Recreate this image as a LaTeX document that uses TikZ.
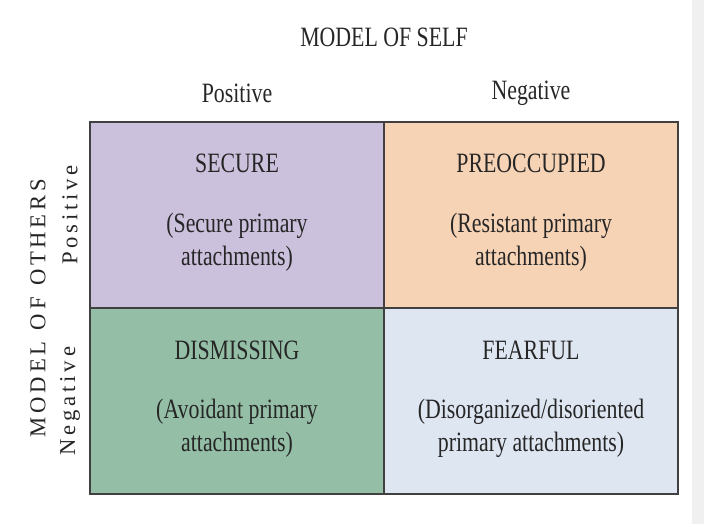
\documentclass[tikz,border=0pt]{standalone}
\usepackage{fontspec}
\setmainfont{Liberation Serif}[FakeStretch=0.78]
\newfontfamily\sidefont{Liberation Serif}
\begin{document}
\begin{tikzpicture}[x=0.75pt,y=-0.75pt,
  cell/.style={draw=black!75,line width=1.6pt},
  lab/.style={align=center,font=\fontsize{21}{25}\selectfont,text=black!85},
  side/.style={rotate=90,font=\sidefont\fontsize{17}{20}\selectfont,text=black!85}]
\useasboundingbox (0,0) rectangle (704,524);
\fill[black!6] (692,0) rectangle (704,524);
\fill[cell,fill={rgb,255:red,204;green,193;blue,221}] (90,122) rectangle (384,308);
\fill[cell,fill={rgb,255:red,247;green,211;blue,182}] (384,122) rectangle (678,308);
\fill[cell,fill={rgb,255:red,148;green,191;blue,166}] (90,308) rectangle (384,494);
\fill[cell,fill={rgb,255:red,222;green,230;blue,241}] (384,308) rectangle (678,494);
\draw[cell] (90,122) rectangle (678,494) (384,122)--(384,494) (90,308)--(678,308);
\node[lab] (title) at (384,37) {MODEL OF SELF};
\node[lab] (pos) at (237,93) {Positive};
\node[lab] (neg) at (531,93) {Negative};
\node[lab] (s1) at (237,163) {SECURE};
\node[lab] (s2) at (237,242) {(Secure primary\\attachments)};
\node[lab] (p1) at (531,163) {PREOCCUPIED};
\node[lab] (p2) at (531,242) {(Resistant primary\\attachments)};
\node[lab] (d1) at (237,350) {DISMISSING};
\node[lab] (d2) at (237,428) {(Avoidant primary\\attachments)};
\node[lab] (f1) at (531,350) {FEARFUL};
\node[lab] (f2) at (531,428) {(Disorganized/disoriented\\primary attachments)};
\node[side] (mo) at (38,308) {M\,O\,D\,E\,L\ \ O\,F\ \ O\,T\,H\,E\,R\,S};
\node[side] (lp) at (70,215) {P\,o\,s\,i\,t\,i\,v\,e};
\node[side] (ln) at (70,401) {N\,e\,g\,a\,t\,i\,v\,e};
\end{tikzpicture}
\end{document}
